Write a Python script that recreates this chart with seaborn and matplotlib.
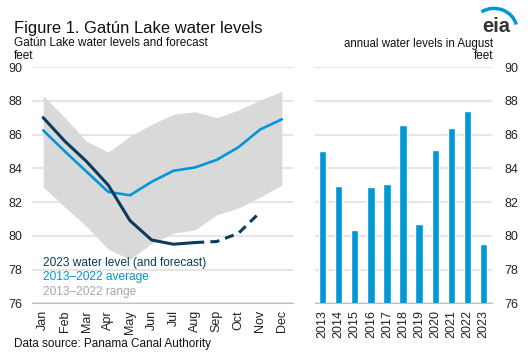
import numpy as np
import pandas as pd
import matplotlib
matplotlib.use("Agg")
import matplotlib.pyplot as plt
from matplotlib.patches import Arc
import seaborn as sns

months = ["Jan", "Feb", "Mar", "Apr", "May", "Jun", "Jul", "Aug", "Sep", "Oct", "Nov", "Dec"]
level_2023 = [87.0, 85.6, 84.4, 83.0, 80.9, 79.75, 79.5, 79.6]
forecast_months = ["Aug", "Sep", "Oct", "Nov"]
forecast_2023 = [79.6, 79.66, 80.15, 81.4]
avg_1322 = [86.25, 85.0, 83.8, 82.6, 82.4, 83.2, 83.85, 84.05, 84.5, 85.25, 86.3, 86.9]
range_hi = [88.3, 87.0, 85.6, 84.95, 85.9, 86.6, 87.2, 87.35, 87.0, 87.45, 88.05, 88.55]
range_lo = [82.9, 81.7, 80.55, 79.2, 78.6, 79.55, 80.15, 80.35, 81.25, 81.65, 82.3, 83.0]
years = ["2013", "2014", "2015", "2016", "2017", "2018", "2019", "2020", "2021", "2022", "2023"]
aug_levels = [85.0, 82.96, 80.33, 82.92, 83.08, 86.56, 80.69, 85.1, 86.38, 87.37, 79.54]
yticks = [76, 78, 80, 82, 84, 86, 88, 90]

NAVY = "#0b3c5d"
BLUE = "#0096d7"
GRAY = "#d9d9d9"
GRID = "#e6e6e6"

sns.set_theme(style="white")
plt.rcParams["font.family"] = ["Liberation Sans", "DejaVu Sans"]

fig = plt.figure(figsize=(5.3, 3.58), dpi=100)
ax1 = fig.add_axes([0.061, 0.1528, 0.4913, 0.66])
ax2 = fig.add_axes([0.5934, 0.1528, 0.3343, 0.66])

mi = {m: i for i, m in enumerate(months)}
x_all = np.array([mi[m] for m in months])

ax1.fill_between(x_all, range_lo, range_hi, color=GRAY, linewidth=0, zorder=1)
df_avg = pd.DataFrame({"x": x_all, "y": avg_1322})
sns.lineplot(data=df_avg, x="x", y="y", ax=ax1, color=BLUE, linewidth=1.9, zorder=3)
df_23 = pd.DataFrame({"x": x_all[:len(level_2023)], "y": level_2023})
sns.lineplot(data=df_23, x="x", y="y", ax=ax1, color=NAVY, linewidth=2.2, zorder=4)
df_fc = pd.DataFrame({"x": [mi[m] for m in forecast_months], "y": forecast_2023})
sns.lineplot(data=df_fc, x="x", y="y", ax=ax1, color=NAVY, linewidth=2.2, zorder=4,
             dashes=False)
ax1.lines[-1].set_dashes([3, 2])

ax1.set_xlim(-0.5, 11.5)
ax1.set_ylim(76, 90)
ax1.set_yticks(yticks)
ax1.set_xticks(x_all)
ax1.set_xticklabels(months, rotation=90, fontsize=9, color="#222222")
ax1.set_xticks(np.arange(-0.5, 12, 1), minor=True)
ax1.tick_params(axis="x", which="major", length=0, pad=5)
ax1.tick_params(axis="x", which="minor", length=4, color="#bfbfbf", width=0.8, direction="out")
ax1.tick_params(axis="y", length=0, pad=7, labelsize=9, labelcolor="#222222")
ax1.set_xlabel("")
ax1.set_ylabel("")
ax1.grid(axis="y", color=GRID, linewidth=1.5, zorder=0)
ax1.set_axisbelow(True)
for s in ["top", "right", "left"]:
    ax1.spines[s].set_visible(False)
ax1.spines["bottom"].set_color("#bfbfbf")
ax1.spines["bottom"].set_linewidth(0.8)

ax1.text(0.0, 78.39, "2023 water level (and forecast)", color=NAVY, fontsize=8.6, va="center", ha="left")
ax1.text(0.0, 77.53, "2013\u20132022 average", color=BLUE, fontsize=8.6, va="center", ha="left")
ax1.text(0.0, 76.67, "2013\u20132022 range", color="#a6a6a6", fontsize=8.6, va="center", ha="left")

sns.barplot(x=years, y=aug_levels, ax=ax2, color=BLUE, width=0.46, saturation=1, zorder=3)
ax2.set_ylim(76, 90)
ax2.set_yticks(yticks)
ax2.yaxis.tick_right()
ax2.tick_params(axis="y", length=0, pad=9, labelsize=9, labelcolor="#222222")
ax2.tick_params(axis="x", length=0, pad=5, labelsize=9, labelcolor="#222222", rotation=90)
ax2.set_xlim(-0.5, len(years) - 0.5)
ax2.set_xlabel("")
ax2.set_ylabel("")
ax2.grid(axis="y", color=GRID, linewidth=1.5, zorder=0)
ax2.set_axisbelow(True)
for s in ["top", "right", "left"]:
    ax2.spines[s].set_visible(False)
ax2.spines["bottom"].set_color("#bfbfbf")
ax2.spines["bottom"].set_linewidth(0.8)

W, H = 530, 358
def fx(px): return px / W
def fy(py): return 1 - py / H

fig.text(fx(14), fy(33), "Figure 1. Gat\u00fan Lake water levels", fontsize=11.9, color="#111111", va="baseline")
fig.text(fx(14), fy(46.5), "Gat\u00fan Lake water levels and forecast", fontsize=8.5, color="#111111", va="baseline")
fig.text(fx(14), fy(59), "feet", fontsize=8.5, color="#111111", va="baseline")
fig.text(fx(493), fy(46.5), "annual water levels in August", fontsize=8.3, color="#111111", va="baseline", ha="right")
fig.text(fx(493), fy(59), "feet", fontsize=8.5, color="#111111", va="baseline", ha="right")
fig.text(fx(14), fy(347), "Data source: Panama Canal Authority", fontsize=8.5, color="#111111", va="baseline")

fig.text(fx(496), fy(32), "eia", fontsize=14.5, color="#333333", va="baseline", ha="center", fontweight="bold")
arc = Arc((fx(494), fy(30)), fx(46), 24 / H * 1.8, theta1=20, theta2=115,
          transform=fig.transFigure, color=BLUE, linewidth=2.5)
fig.add_artist(arc)

fig.savefig("out.png", dpi=100)
